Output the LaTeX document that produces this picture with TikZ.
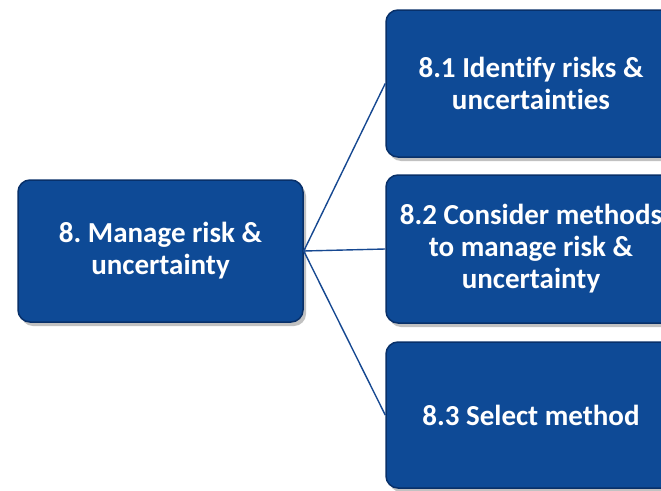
\documentclass[tikz,border=0pt]{standalone}
\usepackage{fontspec}
\setmainfont{Carlito}[Ligatures={NoCommon}]
\usetikzlibrary{shadows}
\definecolor{boxblue}{RGB}{14,74,150}
\definecolor{boxedge}{RGB}{8,48,105}
\definecolor{linkblue}{RGB}{22,72,145}
\tikzset{
  procbox/.style={draw=boxedge, line width=1.5pt, fill=boxblue, rounded corners=12pt,
    text=white, font=\fontsize{29}{32}\selectfont\bfseries, align=center,
    inner sep=0pt, anchor=center,
    drop shadow={opacity=0.4, shadow xshift=3pt, shadow yshift=-4pt, fill=black!60}},
  link/.style={draw=linkblue, line width=1.4pt}
}
\frenchspacing
\begin{document}
\begin{tikzpicture}[x=1pt,y=1pt]
\useasboundingbox (0,0) rectangle (661,-490);
\fill[white] (0,0) rectangle (661,-490);
\clip (0,0) rectangle (661,-490);
\node[procbox, minimum width=285pt, minimum height=142pt] (main) at (160.5,-251) {8. Manage risk \&\\uncertainty};
\node[procbox, minimum width=290pt, minimum height=147pt] (a) at (531,-83.5) {8.1 Identify risks \&\\uncertainties};
\node[procbox, minimum width=290pt, minimum height=148pt] (b) at (531,-249) {8.2 Consider methods\\to manage risk \&\\uncertainty};
\node[procbox, minimum width=290pt, minimum height=146pt] (c) at (531,-415) {8.3 Select method};
\draw[link] (main.east) -- (a.west);
\draw[link] (main.east) -- (b.west);
\draw[link] (main.east) -- (c.west);
\end{tikzpicture}
\end{document}
